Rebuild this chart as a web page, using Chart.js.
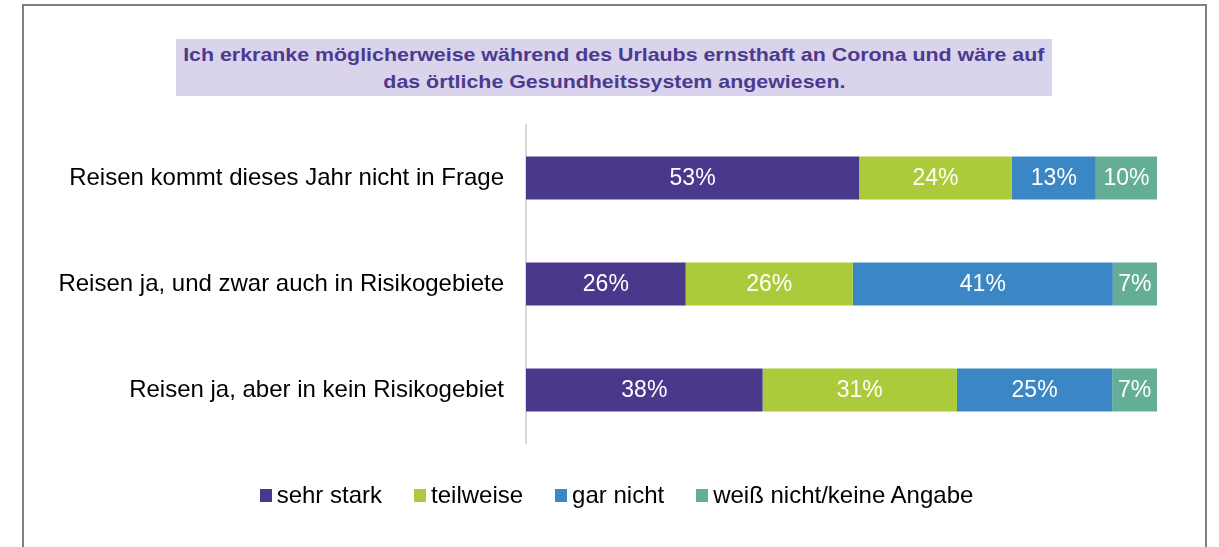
<!DOCTYPE html>
<html lang="de">
<head>
<meta charset="utf-8">
<script src="https://cdn.jsdelivr.net/npm/chart.js@4"></script>
<style>
    html, body { margin: 0; padding: 0; background: #fff; }
    body { width: 1219px; height: 547px; position: relative; overflow: hidden; font-family: "Liberation Sans", Arial, sans-serif; }
    #frame { position: absolute; left: 22px; top: 4px; width: 1185px; height: 600px; border: 2px solid #7f7f7f; box-sizing: border-box; }
    #title { position: absolute; left: 176px; top: 39px; width: 876px; height: 57px; background: #d9d3eb;
             color: #4b3a8f; font-weight: bold; font-size: 19px; line-height: 27px; text-align: center; padding-top: 2px; box-sizing: border-box; }
    #title span { display: inline-block; transform: scaleX(1.125); }
    #wrap { position: absolute; left: 0; top: 0; width: 1219px; height: 547px; }
    #legend { position: absolute; left: 7px; top: 481px; width: 1219px; display: flex; justify-content: center; font-size: 24px; color: #000; }
    .item { display: flex; align-items: center; margin: 0 16px; }
    .box { width: 12px; height: 13px; margin-right: 5px; }
</style>
</head>
<body>
<div id="frame"></div>
<div id="title"><span>Ich erkranke möglicherweise während des Urlaubs ernsthaft an Corona und wäre auf</span><br><span>das örtliche Gesundheitssystem angewiesen.</span></div>
<div id="wrap"><canvas id="chart" width="1219" height="547"></canvas></div>
<div id="legend"></div>
<script>
// Kategorien (von oben nach unten)
const categories = [
    "Reisen kommt dieses Jahr nicht in Frage",
    "Reisen ja, und zwar auch in Risikogebiete",
    "Reisen ja, aber in kein Risikogebiet"
];

const seriesNames = ["sehr stark", "teilweise", "gar nicht", "weiß nicht/keine Angabe"];
const sehrStark  = [52.8, 25.3, 37.5];
const teilweise  = [24.2, 26.5, 30.8];
const garNicht   = [13.3, 41.2, 24.6];
const weissNicht = [9.7, 7.0, 7.1];

// Beschriftungen wie im Original
const sehrStarkLabels  = ["53%", "26%", "38%"];
const teilweiseLabels  = ["24%", "26%", "31%"];
const garNichtLabels   = ["13%", "41%", "25%"];
const weissNichtLabels = ["10%", "7%", "7%"];

const colors = ["#4a388c", "#abcb3b", "#3b87c6", "#64ae97"];

const seriesValues = [sehrStark, teilweise, garNicht, weissNicht];
const seriesLabels = [sehrStarkLabels, teilweiseLabels, garNichtLabels, weissNichtLabels];

// Werte in den Balken
const barLabels = {
    id: "barLabels",
    afterDatasetsDraw(chart) {
        const ctx = chart.ctx;
        ctx.save();
        ctx.fillStyle = "#ffffff";
        ctx.font = '23px "Liberation Sans", Arial, sans-serif';
        ctx.textAlign = "center";
        ctx.textBaseline = "middle";
        chart.data.datasets.forEach((ds, i) => {
            chart.getDatasetMeta(i).data.forEach((bar, j) => {
                const p = bar.getProps(["x", "y", "base"], true);
                ctx.fillText(seriesLabels[i][j], (p.x + p.base) / 2, p.y + 1);
            });
        });
        ctx.restore();
    }
};

new Chart(document.getElementById("chart"), {
    type: "bar",
    data: {
        labels: categories,
        datasets: seriesNames.map((name, i) => ({
            label: name,
            data: seriesValues[i],
            backgroundColor: colors[i],
            borderWidth: 0,
            barPercentage: 0.405,
            categoryPercentage: 1
        }))
    },
    options: {
        indexAxis: "y",
        responsive: false,
        animation: false,
        layout: { padding: { left: 0, right: 62, top: 125, bottom: 104 } },
        scales: {
            x: { stacked: true, min: 0, max: 100, display: false },
            y: {
                stacked: true,
                afterFit: (scale) => { scale.width = 526; },
                grid: { display: false, drawTicks: false },
                border: { display: true, color: "#d9d9d9", width: 2 },
                ticks: {
                    color: "#000",
                    padding: 22,
                    font: { family: '"Liberation Sans", Arial, sans-serif', size: 24 }
                }
            }
        },
        plugins: {
            legend: { display: false },
            tooltip: { enabled: false }
        }
    },
    plugins: [barLabels]
});

// Legende
const legend = document.getElementById("legend");
seriesNames.forEach((name, i) => {
    const item = document.createElement("div");
    item.className = "item";
    item.innerHTML = `<span class="box" style="background:${colors[i]}"></span><span>${name}</span>`;
    legend.appendChild(item);
});
</script>
</body>
</html>
